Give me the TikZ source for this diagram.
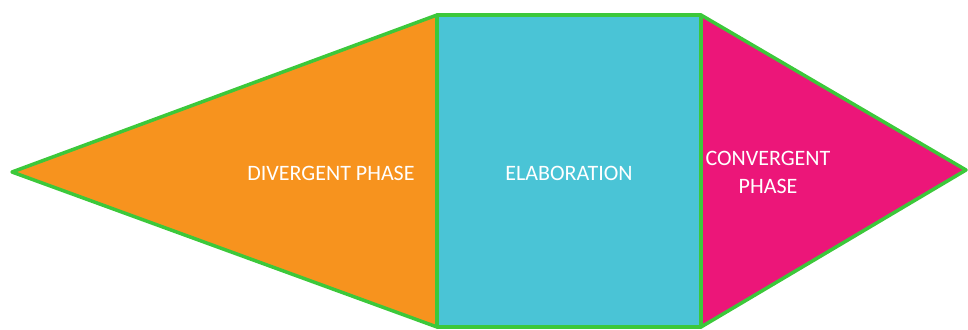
\documentclass[tikz,border=0pt]{standalone}
\usepackage{fontspec}
\setmainfont{Carlito}
\usetikzlibrary{positioning}
\definecolor{divorange}{HTML}{F7931E}
\definecolor{elabblue}{HTML}{4AC4D6}
\definecolor{convpink}{HTML}{EC1679}
\definecolor{edgegreen}{HTML}{3CC83A}

\begin{document}
\begin{tikzpicture}[x=1pt, y=-1pt,
  phase/.style={draw=edgegreen, line width=3.5pt, line join=round},
  lbl/.style={text=white, font=\fontsize{22}{28}\selectfont, align=center, inner sep=0pt}]
\useasboundingbox (0,0) rectangle (968,329);

% corners of the three phases
\coordinate (ltip) at (12,172);
\coordinate (ltop) at (437,15);
\coordinate (lbot) at (437,327);
\coordinate (rtop) at (701,15);
\coordinate (rbot) at (701,327);
\coordinate (rtip) at (966,170);

\filldraw[phase, fill=divorange] (ltip) -- (ltop) -- (lbot) -- cycle;
\filldraw[phase, fill=elabblue]  (ltop) -- (rtop) -- (rbot) -- (lbot) -- cycle;
\filldraw[phase, fill=convpink]  (rtop) -- (rtip) -- (rbot) -- cycle;

% Labels
\node[lbl] (div)  at (331,173) {DIVERGENT PHASE};
\node[lbl] (elab) at (569,173) {ELABORATION};
\node[lbl] (conv) at (768,172) {CONVERGENT\\PHASE};
\end{tikzpicture}
\end{document}
